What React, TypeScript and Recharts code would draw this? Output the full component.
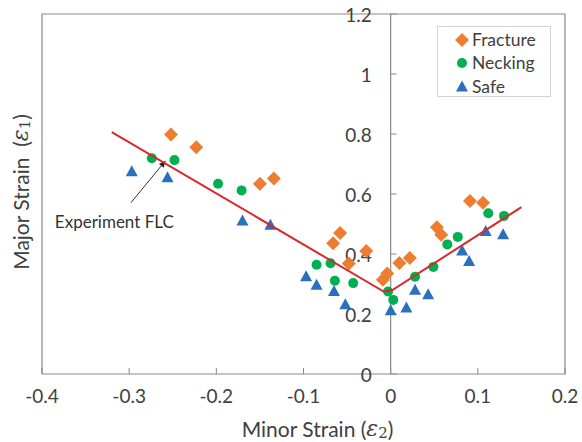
import {
  Legend,
  ReferenceArea,
  ReferenceDot,
  ReferenceLine,
  Scatter,
  ScatterChart,
  XAxis,
  YAxis,
} from 'recharts'

const fractureX = [-0.252, -0.223, -0.15, -0.134, -0.066, -0.058, -0.048, -0.028, -0.009, -0.004, 0.01, 0.022, 0.053, 0.058, 0.091, 0.106]
const fractureY = [0.798, 0.756, 0.634, 0.652, 0.436, 0.47, 0.368, 0.41, 0.314, 0.335, 0.37, 0.387, 0.489, 0.464, 0.577, 0.571]

const neckingX = [-0.274, -0.248, -0.198, -0.171, -0.085, -0.069, -0.064, -0.043, -0.003, 0.003, 0.028, 0.049, 0.065, 0.077, 0.112, 0.13]
const neckingY = [0.719, 0.713, 0.634, 0.612, 0.364, 0.369, 0.311, 0.303, 0.275, 0.247, 0.324, 0.357, 0.432, 0.457, 0.536, 0.527]

const safeX = [-0.297, -0.256, -0.17, -0.138, -0.097, -0.085, -0.065, -0.052, 0.0, 0.018, 0.028, 0.043, 0.082, 0.09, 0.109, 0.129]
const safeY = [0.674, 0.654, 0.51, 0.496, 0.324, 0.296, 0.275, 0.231, 0.211, 0.22, 0.279, 0.264, 0.41, 0.375, 0.475, 0.464]

const flcX = [-0.32, -0.008, 0.002, 0.15]
const flcY = [0.806, 0.275, 0.28, 0.556]

const xTicks = [-0.4, -0.3, -0.2, -0.1, 0, 0.1, 0.2]
const yTicks = [0, 0.2, 0.4, 0.6, 0.8, 1, 1.2]

const arrowX = [-0.298, -0.258]
const arrowY = [0.571, 0.712]
const noteAt = { x: -0.317, y: 0.507 }

const zip = (xs: number[], ys: number[]) => xs.map((x, i) => ({ x, y: ys[i] }))

const fracture = zip(fractureX, fractureY)
const necking = zip(neckingX, neckingY)
const safe = zip(safeX, safeY)
const flc = zip(flcX, flcY)

const FONT = 'Lato, "Open Sans", sans-serif'
const AXIS = '#8a8a8a'
const TEXT = '#404040'
const ORANGE = '#ed7d31'
const GREEN = '#00b050'
const BLUE = '#2a70bd'
const RED = '#d8282e'

const Diamond = ({ cx, cy }: any) => (
  <polygon points={`${cx},${cy - 7} ${cx + 7},${cy} ${cx},${cy + 7} ${cx - 7},${cy}`} fill={ORANGE} />
)
const Circle = ({ cx, cy }: any) => <circle cx={cx} cy={cy} r={5} fill={GREEN} />
const Triangle = ({ cx, cy }: any) => (
  <polygon points={`${cx},${cy - 6.5} ${cx + 6},${cy + 4.5} ${cx - 6},${cy + 4.5}`} fill={BLUE} />
)

const XTick = ({ x, y, payload }: any) => (
  <g>
    <line x1={x} y1={y} x2={x} y2={y - 6} stroke={AXIS} />
    <text x={x} y={y + 21} textAnchor="middle" dominantBaseline="central" fontSize={19} fontFamily={FONT} fill={TEXT}>
      {payload.value}
    </text>
  </g>
)

const YTick = ({ cx, cy, value }: any) => (
  <g>
    <line x1={cx} y1={cy} x2={cx + 6} y2={cy} stroke={AXIS} />
    <text x={cx - 19} y={cy} textAnchor="end" dominantBaseline="central" fontSize={19} fontFamily={FONT} fill={TEXT}>
      {value}
    </text>
  </g>
)

const Epsilon = ({ sub }: { sub: string }) => (
  <>
    <tspan fontFamily="DejaVu Serif" fontStyle="italic" fontSize={22}>ε</tspan>
    <tspan fontFamily="DejaVu Serif" fontSize={15} dy={5}>{sub}</tspan>
    <tspan dy={-5}>)</tspan>
  </>
)

const XTitle = ({ viewBox }: any) => (
  <text
    x={viewBox.x + viewBox.width / 2 + 14}
    y={viewBox.y + 54}
    textAnchor="middle"
    dominantBaseline="central"
    fontSize={21}
    fontFamily={FONT}
    fill={TEXT}
  >
    Minor Strain (
    <Epsilon sub="2" />
  </text>
)

const YTitle = ({ viewBox }: any) => {
  const cx = viewBox.x + 20
  const cy = viewBox.y + viewBox.height / 2 - 2
  return (
    <text
      x={cx}
      y={cy}
      transform={`rotate(-90 ${cx} ${cy})`}
      textAnchor="middle"
      dominantBaseline="central"
      fontSize={21}
      fontFamily={FONT}
      fill={TEXT}
    >
      {'Major Strain\u00a0\u00a0('}
      <Epsilon sub="1" />
    </text>
  )
}

const Arrow = ({ x1, y1, x2, y2 }: any) => {
  const a = Math.atan2(y2 - y1, x2 - x1)
  const len = 7
  const w = 3
  const bx = x2 - len * Math.cos(a)
  const by = y2 - len * Math.sin(a)
  const px = -Math.sin(a) * w
  const py = Math.cos(a) * w
  return (
    <g>
      <line x1={x1} y1={y1} x2={bx} y2={by} stroke="#333" strokeWidth={1} />
      <polygon points={`${x2},${y2} ${bx + px},${by + py} ${bx - px},${by - py}`} fill="#222" />
    </g>
  )
}

const legendItems = [
  { name: 'Fracture', mark: 'diamond' },
  { name: 'Necking', mark: 'circle' },
  { name: 'Safe', mark: 'triangle' },
]

const LegendBox = () => (
  <div
    style={{
      width: 112,
      height: 69,
      border: '1px solid #d4d4d4',
      background: '#fff',
      position: 'relative',
      fontFamily: FONT,
      fontSize: 17.5,
      color: TEXT,
    }}
  >
    {legendItems.map((item, i) => (
      <div key={item.name} style={{ position: 'absolute', left: 16, top: 1 + i * 23.4, height: 23, display: 'flex', alignItems: 'center' }}>
        <svg width={16} height={16} style={{ marginRight: 2 }}>
          {item.mark === 'diamond' && <Diamond cx={8} cy={8} />}
          {item.mark === 'circle' && <Circle cx={8} cy={8} />}
          {item.mark === 'triangle' && <Triangle cx={8} cy={9} />}
        </svg>
        <span style={{ lineHeight: '23px' }}>{item.name}</span>
      </div>
    ))}
  </div>
)

export default function App() {
  return (
    <div style={{ position: 'absolute', left: 0, top: 0, width: 582, height: 442, background: '#fff' }}>
      <ScatterChart width={582} height={442} margin={{ top: 14, right: 17, bottom: 0, left: 0 }}>
        <XAxis
          type="number"
          dataKey="x"
          domain={[-0.4, 0.2]}
          ticks={xTicks}
          interval={0}
          height={68}
          axisLine={false}
          tickLine={false}
          tickSize={0}
          tickMargin={0}
          tick={<XTick />}
          label={<XTitle />}
        />
        <YAxis
          type="number"
          dataKey="y"
          domain={[0, 1.2]}
          ticks={yTicks}
          width={42}
          axisLine={false}
          tickLine={false}
          tick={false}
          label={<YTitle />}
        />
        <ReferenceArea x1={-0.4} x2={0.2} y1={0} y2={1.2} fill="none" stroke={AXIS} strokeWidth={1.2} ifOverflow="visible" />
        <ReferenceLine x={0} stroke={AXIS} strokeWidth={1.2} />
        {yTicks.map((v) => (
          <ReferenceDot
            key={v}
            x={0}
            y={v}
            r={0}
            ifOverflow="visible"
            shape={(p: any) => <YTick cx={p.cx} cy={p.cy} value={v} />}
          />
        ))}
        <Scatter name="Fracture" data={fracture} shape={<Diamond />} isAnimationActive={false} />
        <Scatter name="Necking" data={necking} shape={<Circle />} isAnimationActive={false} />
        <Scatter name="Safe" data={safe} shape={<Triangle />} isAnimationActive={false} />
        <Scatter
          name="Experiment FLC"
          data={flc}
          line={{ stroke: RED, strokeWidth: 2 }}
          lineType="joint"
          shape={() => <g />}
          legendType="none"
          isAnimationActive={false}
        />
        <ReferenceLine
          segment={[
            { x: arrowX[0], y: arrowY[0] },
            { x: arrowX[1], y: arrowY[1] },
          ]}
          shape={<Arrow />}
          ifOverflow="visible"
        />
        <ReferenceDot
          x={noteAt.x}
          y={noteAt.y}
          r={0}
          ifOverflow="visible"
          shape={(p: any) => (
            <text x={p.cx} y={p.cy} textAnchor="middle" dominantBaseline="central" fontSize={17} fontFamily={FONT} fill="#333">
              Experiment FLC
            </text>
          )}
        />
        <Legend
          layout="vertical"
          align="center"
          verticalAlign="middle"
          content={<LegendBox />}
          wrapperStyle={{ left: 437, top: 26, width: 114, height: 71 }}
        />
      </ScatterChart>
    </div>
  )
}
